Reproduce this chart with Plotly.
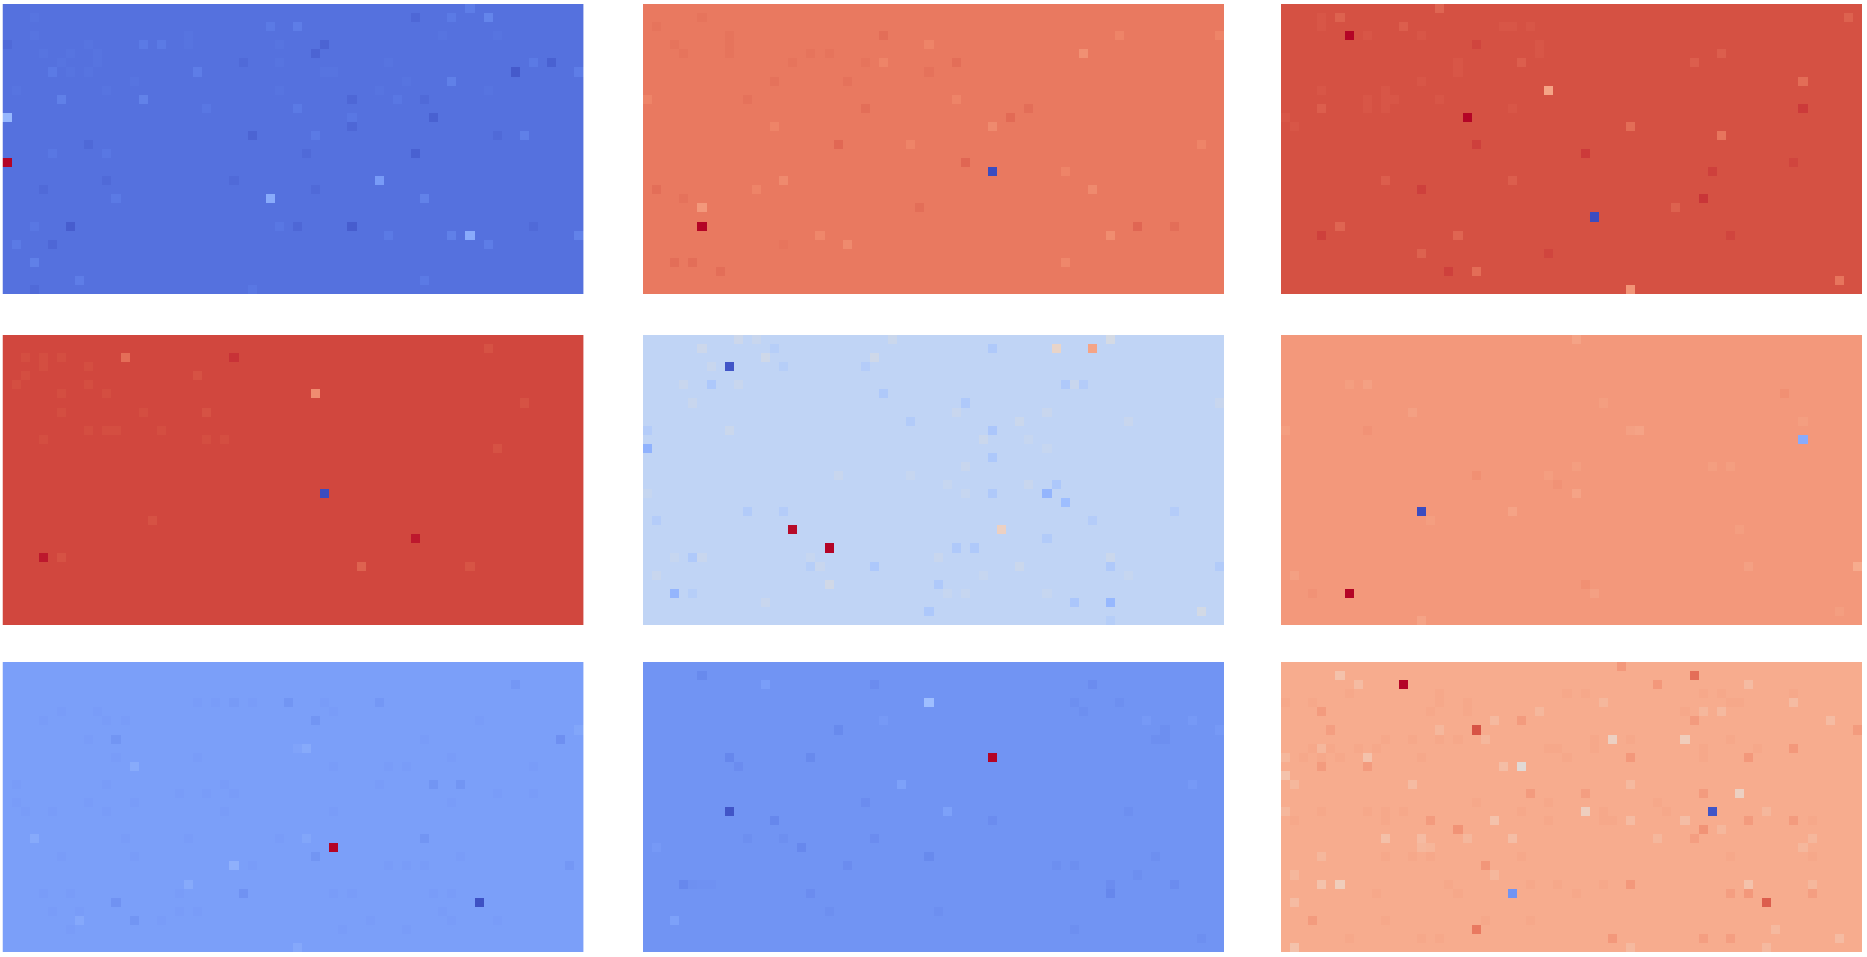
import plotly.graph_objects as go

N_ROWS = 32
N_COLS = 64

coolwarm = ["#3b4cc0", "#5b7ae5", "#7b9ff9", "#9ebeff", "#c0d4f5", "#dddcdc",
            "#f2cbb7", "#f7ac8e", "#ee8468", "#d44e41", "#b40426"]

# Each panel: background level on the 0-1 colour range, then (row, col, level) for cells that stand out
p1_base = 0.08
p1_cells = [(17,0,1.0),(12,0,.28),(4,35,.04),(5,34,.04),(6,26,.06),(7,56,.01),(6,60,.03),(1,53,.15),(0,51,.12),
 (1,49,.11),(1,45,.05),(2,32,.12),(2,29,.11),(4,15,.11),(4,17,.11),(7,21,.12),(7,5,.11),(10,6,.13),(10,15,.14),
 (8,49,.13),(7,63,.12),(6,58,.11),(10,38,.05),(10,46,.06),(10,43,.10),(12,47,.03),(12,38,.10),(13,38,.05),
 (11,22,.10),(11,32,.11),(14,27,.04),(15,9,.055),(14,34,.11),(14,57,.13),(14,54,.06),(16,45,.03),(16,33,.06),
 (16,5,.10),(16,11,.10),(19,41,.19),(21,46,.14),(21,29,.24),(19,25,.06),(19,11,.06),(20,4,.06),(20,34,.06),
 (21,12,.11),(24,7,.02),(24,38,.02),(24,32,.05),(24,30,.10),(24,3,.10),(24,58,.06),(25,51,.24),(25,49,.13),
 (25,63,.14),(26,53,.12),(26,5,.05),(26,1,.11),(28,3,.13),(30,8,.12),(31,3,.06),(31,27,.10),(30,46,.11),
 (25,42,.11),(4,0,.06)]
p1_faint_level = 0.086
p1_faint = [(1,3),(3,3),(3,20),(3,48),(3,54),(4,9),(4,20),(4,30),(5,4),(5,7),(5,10),(6,6),(6,10),(6,30),(6,42),
 (7,7),(7,9),(7,35),(7,36),(8,14),(8,44),(9,1),(9,11),(9,30),(9,41),(9,53)]

p2_base = 0.82
p2_cells = [(24,6,1.0),(22,6,.72),(18,38,0.0),(17,35,.87),(15,21,.865),(12,40,.86),(6,34,.85),(11,42,.85),
 (11,24,.85),(24,54,.87),(24,58,.85),(5,48,.75),(3,26,.85),(7,31,.84),(8,14,.84),(8,22,.84),(10,11,.84),
 (10,0,.79),(6,26,.79),(3,52,.79),(4,31,.79),(3,63,.79),(10,34,.79),(13,38,.77),(13,14,.79),(15,29,.79),
 (15,61,.79),(18,46,.79),(19,15,.77),(20,49,.77),(20,12,.79),(20,1,.85),(21,4,.84),(22,30,.85),(25,51,.76),
 (26,22,.77),(25,19,.78),(28,46,.78),(28,3,.85),(28,5,.85),(29,8,.85),(26,15,.83)]
p2_faint_level = 0.83
p2_faint = [(1,6),(2,1),(3,9),(4,9),(4,3),(5,9),(5,4),(5,18),(5,20),(6,16),(6,24)]

p3_base = 0.895
p3_cells = [(3,7,1.0),(12,20,1.0),(9,29,.72),(23,34,0.0),(31,38,.76),(14,48,.80),(8,57,.82),(11,57,.94),
 (21,46,.95),(16,33,.94),(15,21,.93),(4,21,.92),(20,15,.93),(25,4,.93),(18,47,.93),(17,56,.92),(25,49,.92),
 (29,18,.93),(27,29,.92),(29,21,.82),(30,61,.80),(13,38,.82),(24,6,.84),(1,6,.85),(0,17,.84),(1,62,.85),
 (11,4,.86),(19,25,.86),(22,43,.85),(27,15,.85),(25,19,.84),(19,11,.86),(2,13,.86),(6,26,.86),(6,45,.86),(5,48,.86)]
p3_faint_level = 0.885
p3_faint = [(1,4),(2,4),(3,9),(3,15),(2,24),(2,25),(2,27),(4,28),(5,28),(6,19),(7,19),(8,15),(9,4),(9,11),(10,9),
 (10,11),(10,12),(10,17),(11,9),(11,11),(11,25),(12,0),(13,1)]

p4_base = 0.91
p4_cells = [(24,4,1.0),(22,45,1.0),(17,35,0.0),(6,34,.78),(2,13,.81),(2,25,.95),(25,39,.84),(1,53,.885),(4,21,.885),
 (8,22,.885),(25,51,.88),(24,6,.885),(7,57,.885),(12,54,.885),(20,16,.885)]
p4_faint_level = 0.90
p4_faint = [(2,2),(2,4),(2,6),(3,4),(3,9),(4,2),(5,1),(5,9),(6,6),(6,11),(8,6),(8,15),(10,9),(10,11),(10,12),(10,17),
 (11,4),(11,22),(11,24)]

p5_base = 0.40
p5_cells = [(3,9,.02),(21,16,.99),(23,20,1.0),(1,49,.72),(1,45,.55),(21,39,.57),(0,51,.5),(0,10,.46),(0,12,.44),
 (0,27,.45),(1,6,.46),(2,13,.47),(2,25,.47),(3,7,.44),(5,4,.44),(5,10,.44),(5,7,.32),(1,38,.33),(1,14,.36),
 (3,15,.36),(3,24,.35),(6,26,.33),(5,46,.33),(5,48,.35),(5,47,.44),(7,5,.44),(7,35,.33),(7,63,.44),(8,34,.44),
 (8,44,.44),(9,29,.34),(9,41,.45),(9,53,.44),(10,9,.45),(10,0,.35),(10,38,.31),(11,37,.45),(11,42,.43),
 (12,0,.26),(13,38,.32),(12,44,.43),(14,35,.44),(15,21,.44),(15,29,.43),(17,44,.27),(16,45,.32),(18,46,.30),
 (17,38,.33),(17,0,.43),(17,35,.43),(16,33,.43),(16,42,.44),(19,11,.34),(19,15,.35),(19,58,.35),(20,49,.35),
 (20,1,.35),(22,44,.34),(23,34,.33),(23,36,.33),(24,5,.33),(24,6,.44),(24,3,.43),(24,18,.43),(24,32,.44),
 (24,51,.45),(25,19,.44),(25,18,.36),(25,25,.32),(25,41,.45),(25,51,.33),(25,63,.34),(26,53,.43),(26,1,.44),
 (27,20,.48),(27,32,.33),(28,3,.27),(28,5,.36),(28,33,.43),(28,35,.43),(28,44,.43),(29,13,.44),(29,47,.31),
 (29,51,.28),(30,31,.32),(30,61,.49),(31,51,.36),(26,37,.43)]
p5_faint_level = 0.40
p5_faint = []

p6_base = 0.75
p6_cells = [(28,7,1.0),(19,15,0.0),(11,57,.24),(15,21,.78),(27,33,.78),(16,30,.77),(6,55,.78),(28,3,.77),(10,9,.77),
 (0,32,.71),(17,32,.71),(19,25,.71),(25,63,.68),(31,15,.71),(5,9,.72),(5,7,.73),(8,14,.72),(7,35,.73),(10,39,.71),
 (10,38,.72),(9,57,.73),(14,47,.73),(14,49,.73),(14,32,.73),(15,29,.73),(25,51,.72),(26,1,.72),(28,34,.72),
 (30,61,.73),(20,16,.73),(21,50,.73),(10,0,.73)]
p6_faint_level = 0.75
p6_faint = []

p7_base = 0.20
p7_cells = [(20,36,1.0),(26,52,.01),(22,25,.28),(11,14,.255),(19,3,.25),(24,20,.25),(28,8,.24),(9,33,.25),(9,32,.22),
 (8,61,.14),(4,31,.16),(6,34,.16),(4,41,.17),(8,12,.16),(13,47,.16),(13,50,.16),(19,46,.16),(25,26,.15),(26,12,.15),
 (21,34,.16),(28,14,.16),(31,32,.24),(7,63,.23),(19,33,.23),(2,56,.17),(22,62,.17),(4,25,.18)]
p7_faint_level = 0.193
p7_faint = [(4,21),(4,23),(4,27),(4,35),(5,6),(5,10),(5,36),(6,4),(6,11),(6,13),(6,52),(8,9),(8,46),(10,12),(10,21),(10,49),
 (11,36),(11,42),(11,44),(11,58),(13,1),(13,11),(13,24),(13,41),(14,19),(14,22),(14,25),(14,54),(14,58),(15,1),(15,9),
 (15,14),(15,49),(16,2),(16,5),(16,11),(16,24),(16,36),(19,13),(19,20),(19,30),(21,6),(21,14),(21,50),(22,27),(22,42),
 (22,44),(22,46),(25,4),(25,7),(25,19),(25,36),(25,38),(25,47),(25,49),(27,5),(27,8),(27,19),(27,21),(27,48),(28,17),
 (28,40),(28,49),(28,54),(29,7),(29,37),(29,44)]

p8_base = 0.17
p8_cells = [(10,38,1.0),(16,9,.02),(4,31,.30),(13,28,.22),(16,33,.22),(28,3,.22),(2,13,.21),(17,14,.12),(10,9,.12),
 (25,51,.12),(24,4,.125),(20,17,.125),(1,6,.13),(2,25,.14),(2,49,.14),(7,21,.13),(10,18,.13),(11,10,.14),(21,31,.13),
 (15,24,.14),(22,22,.14),(17,38,.14),(4,47,.15),(4,52,.15),(5,48,.15),(16,53,.15),(21,56,.15),(22,47,.15),(22,45,.15),
 (24,58,.14),(23,54,.15),(24,51,.14),(19,25,.14),(19,15,.15),(19,11,.15),(20,1,.19),(24,5,.155),(24,6,.16),(24,7,.16),
 (25,18,.14),(27,20,.15),(27,32,.15),(29,47,.15),(30,61,.15),(7,57,.15),(8,56,.15),(8,57,.15),(6,26,.19),(7,63,.19),
 (13,60,.19),(6,60,.19),(6,55,.19)]
p8_faint_level = 0.17
p8_faint = []

p9_base = 0.70
p9_cells = [(2,13,1.0),(7,21,.89),(1,45,.84),(26,53,.87),(16,47,.02),(25,25,.17),(11,26,.52),(11,24,.62),(8,36,.57),
 (8,44,.59),(1,6,.60),(2,8,.63),(2,51,.63),(2,41,.77),(0,37,.77),(4,35,.65),(4,56,.63),(5,28,.65),(6,23,.64),(6,26,.76),
 (6,60,.63),(6,45,.76),(5,4,.76),(7,63,.76),(7,5,.75),(10,9,.60),(11,9,.76),(11,4,.76),(12,0,.60),(10,0,.65),(10,38,.77),
 (10,51,.77),(9,56,.77),(13,14,.63),(13,1,.65),(13,38,.64),(14,27,.76),(14,33,.75),(14,46,.76),(14,50,.57),(16,33,.58),
 (16,0,.65),(16,53,.65),(17,23,.60),(17,38,.63),(17,44,.62),(17,16,.76),(17,51,.76),(17,56,.76),(18,19,.79),(18,46,.79),
 (18,48,.65),(19,11,.61),(19,15,.63),(19,25,.62),(19,20,.65),(20,15,.65),(20,16,.66),(22,22,.78),(21,4,.65),(24,4,.60),
 (24,6,.59),(24,51,.60),(24,38,.77),(25,51,.77),(25,49,.75),(25,58,.75),(24,58,.65),(23,1,.65),(23,23,.65),(26,1,.63),
 (28,3,.76),(29,21,.82),(29,54,.64),(30,36,.77),(30,61,.63),(31,1,.60),(31,38,.64),(31,53,.64),(5,46,.65),(5,48,.64),
 (9,4,.65),(7,17,.65),(8,22,.65),(19,58,.65),(20,57,.65),(19,45,.75),(19,41,.65),(30,46,.75),(30,49,.75)]
p9_faint_level = 0.71
p9_faint = [(3,7),(3,17),(3,31),(3,33),(3,46),(3,48),(3,56),(4,0),(4,3),(4,17),(4,20),(4,49),(4,50),(5,16),(5,20),(5,44),
 (8,11),(8,14),(8,17),(8,19),(8,34),(8,38),(8,49),(9,3),(9,5),(9,8),(9,10),(9,29),(9,30),(9,34),(9,46),(9,52),(10,2),(10,4),
 (10,6),(10,15),(10,31),(10,46),(15,21),(15,29),(15,41),(16,4),(16,9),(16,11),(16,13),(16,26),(16,35),(16,42),(17,1),(17,11),
 (17,29),(17,35),(17,36),(17,58),(21,11),(21,14),(21,16),(21,26),(21,49),(21,58),(24,18),(24,27),(24,30),(24,35),(25,10),
 (25,19),(25,32),(28,11),(28,22),(28,27),(30,7),(30,15),(30,17)]

panels = [(p1_base, p1_faint_level, p1_faint, p1_cells), (p2_base, p2_faint_level, p2_faint, p2_cells),
          (p3_base, p3_faint_level, p3_faint, p3_cells), (p4_base, p4_faint_level, p4_faint, p4_cells),
          (p5_base, p5_faint_level, p5_faint, p5_cells), (p6_base, p6_faint_level, p6_faint, p6_cells),
          (p7_base, p7_faint_level, p7_faint, p7_cells), (p8_base, p8_faint_level, p8_faint, p8_cells),
          (p9_base, p9_faint_level, p9_faint, p9_cells)]

# My readings of small differences came out too strong against the reference, so they are pulled back
SMALL_DIFF = 0.1
SMALL_DIFF_GAIN = 0.7

W, H = 1867, 957
col_left = [2.5, 643, 1281]
row_top = [4, 335, 662]
pw, ph = 581.3, 290.4

fig = go.Figure()
layout = {}
for i, (base, faint_level, faint, cells) in enumerate(panels):
    z = [[base] * N_COLS for _ in range(N_ROWS)]
    for r, c in faint:
        z[r][c] = faint_level
    for r, c, v in cells:
        d = v - base
        z[r][c] = base + d * SMALL_DIFF_GAIN if abs(d) < SMALL_DIFF else v
    s = "" if i == 0 else str(i + 1)
    fig.add_trace(go.Heatmap(z=z, coloraxis="coloraxis", xaxis="x" + s, yaxis="y" + s, xgap=0, ygap=0))
    x0 = col_left[i % 3]
    y0 = row_top[i // 3]
    layout["xaxis" + s] = dict(domain=[x0 / W, (x0 + pw) / W], visible=False, anchor="y" + s,
                               range=[-0.5, N_COLS - 0.5], constrain="domain")
    layout["yaxis" + s] = dict(domain=[1 - (y0 + ph) / H, 1 - y0 / H], visible=False, anchor="x" + s,
                               range=[N_ROWS - 0.5, -0.5])

fig.update_layout(width=W, height=H, margin=dict(l=0, r=0, t=0, b=0), paper_bgcolor="white", plot_bgcolor="white",
                  coloraxis=dict(colorscale=[[i / 10, c] for i, c in enumerate(coolwarm)], cmin=0, cmax=1, showscale=False),
                  **layout)
fig.write_html("out.html", config={"displayModeBar": False},
               post_script="document.body.style.margin='0';document.body.style.overflow='hidden';")
